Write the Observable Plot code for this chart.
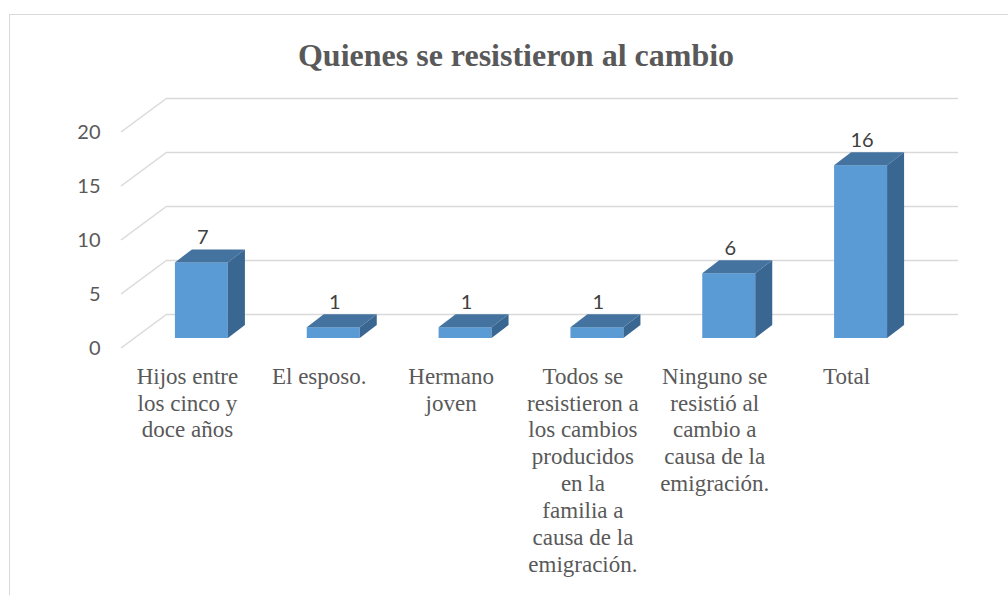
<!DOCTYPE html>
<html>
<head>
<meta charset="utf-8">
<script src="https://cdn.jsdelivr.net/npm/d3@7"></script>
<script src="https://cdn.jsdelivr.net/npm/@observablehq/plot@0.6"></script>
<style>
  html, body { margin: 0; padding: 0; background: #fff; width: 1008px; height: 595px; overflow: hidden; }
  #frame { position: absolute; left: 9px; top: 14px; width: 1100px; height: 700px;
           border-left: 1.5px solid #d9d9d9; border-top: 1.5px solid #d9d9d9; }
  #title { position: absolute; left: 9px; width: 1014px; top: 34px; height: 42px; line-height: 42px;
           text-align: center; font-family: "Liberation Serif", "Times New Roman", serif;
           font-weight: bold; font-size: 32px; color: #595959; }
  #chart { position: absolute; left: 0; top: 80px; }
</style>
</head>
<body>
<div id="frame"></div>
<div id="title">Quienes se resistieron al cambio</div>
<div id="chart"></div>
<script>
const categories = [
  "Hijos entre los cinco y doce años",
  "El esposo.",
  "Hermano joven",
  "Todos se resistieron a los cambios producidos en la familia a causa de la emigración.",
  "Ninguno se resistió al cambio a causa de la emigración.",
  "Total"
];
const categoryLabels = [
  "Hijos entre\nlos cinco y\ndoce años",
  "El esposo.",
  "Hermano\njoven",
  "Todos se\nresistieron a\nlos cambios\nproducidos\nen la\nfamilia a\ncausa de la\nemigración.",
  "Ninguno se\nresistió al\ncambio a\ncausa de la\nemigración.",
  "Total"
];
const values = [7, 1, 1, 1, 6, 16];
const yTicks = [0, 5, 10, 15, 20];

const data = categories.map((c, i) => ({cat: c, label: categoryLabels[i], value: values[i]}));

// 3D projection offsets (pixels)
const WALL_DX = 46, WALL_DY = -34;   // depth of the back wall
const BAR_DX = 14.5, BAR_DY = -10;   // position of bar front faces
const DEPTH_DX = 17, DEPTH_DY = -13; // bar depth
const BAR_W = 53;

const FRONT = "#5b9bd5", TOP = "#4473a0", SIDE = "#3a6692";
const GRID = "#d9d9d9";

function sideWallLines(index, scales, values, dimensions) {
  const g = d3.create("svg:g").attr("stroke", GRID).attr("stroke-width", 1.5).attr("fill", "none");
  const x0 = dimensions.marginLeft;
  for (const t of yTicks) {
    const y = scales.y(t);
    g.append("line").attr("x1", x0).attr("y1", y).attr("x2", x0 + WALL_DX).attr("y2", y + WALL_DY);
  }
  return g.node();
}

function barFaces(index, scales) {
  const g = d3.create("svg:g");
  const bw = scales.x(categories[1]) - scales.x(categories[0]);
  const inset = (bw - BAR_W) / 2;
  for (const d of data) {
    const x0 = scales.x(d.cat) + inset + BAR_DX;
    const x1 = x0 + BAR_W;
    const yT = scales.y(d.value) + BAR_DY;
    const yB = scales.y(0) + BAR_DY;
    g.append("path").attr("fill", TOP)
      .attr("d", `M${x0},${yT}L${x1},${yT}L${x1 + DEPTH_DX},${yT + DEPTH_DY}L${x0 + DEPTH_DX},${yT + DEPTH_DY}Z`);
    g.append("path").attr("fill", SIDE)
      .attr("d", `M${x1},${yT}L${x1 + DEPTH_DX},${yT + DEPTH_DY}L${x1 + DEPTH_DX},${yB + DEPTH_DY}L${x1},${yB}Z`);
  }
  return g.node();
}

const bwGuess = (912 - 121) / categories.length;

const chart = Plot.plot({
  width: 1008,
  height: 515,
  marginLeft: 121,
  marginRight: 96,
  marginTop: 52,
  marginBottom: 247,
  style: {background: "transparent", overflow: "visible"},
  x: {domain: categories, padding: 0, round: false, axis: null},
  y: {domain: [0, 20], axis: null},
  marks: [
    Plot.ruleY(yTicks, {stroke: GRID, strokeWidth: 1.5, dx: WALL_DX, dy: WALL_DY}),
    sideWallLines,
    Plot.axisY({ticks: yTicks, tickSize: 0, tickPadding: 21, fontSize: 20, fill: "#595959",
                fontFamily: "Lato, 'Open Sans', sans-serif", label: null}),
    Plot.barY(data, {x: "cat", y: "value", fill: FRONT,
                     insetLeft: (bwGuess - BAR_W) / 2, insetRight: (bwGuess - BAR_W) / 2,
                     dx: BAR_DX, dy: BAR_DY}),
    barFaces,
    Plot.text(data, {x: "cat", y: "value", text: d => String(d.value), dx: 15.5, dy: -35,
                     fontSize: 20, fill: "#404040", fontFamily: "Lato, 'Open Sans', sans-serif"}),
    Plot.text(data, {x: "cat", y: () => 0, text: "label", lineAnchor: "top", dy: 16,
                     lineHeight: 1.17, fontSize: 23, fill: "#595959",
                     fontFamily: "'Liberation Serif', 'Times New Roman', serif"})
  ]
});
document.getElementById("chart").appendChild(chart);
</script>
</body>
</html>
